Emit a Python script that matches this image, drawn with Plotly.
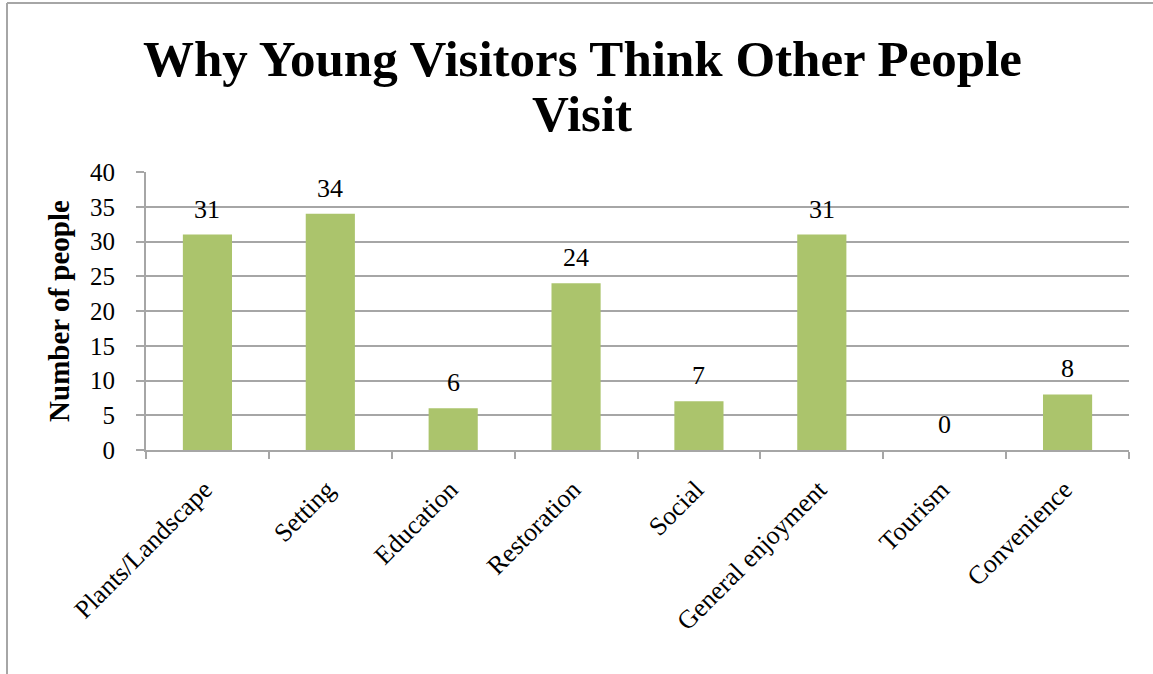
import plotly.graph_objects as go

categories = ["Plants/Landscape", "Setting", "Education", "Restoration", "Social",
              "General enjoyment", "Tourism", "Convenience"]
counts = [31, 34, 6, 24, 7, 31, 0, 8]
y_ticks = [0, 5, 10, 15, 20, 25, 30, 35, 40]
title_lines = ["Why Young Visitors Think Other People", "Visit"]

W, H = 1153, 674
ML, MR, MT, MB = 146, 24, 172, 224
PW = W - ML - MR
PH = H - MT - MB

FONT = "Liberation Serif"
GRID = "#a6a6a6"

def px_x(p):
    return (p - ML) / PW

def px_y(p):
    return (H - MB - p) / PH

fig = go.Figure()
fig.add_trace(go.Bar(
    x=categories, y=counts,
    marker=dict(color="#abc46c", line=dict(width=0)),
    width=0.4,
    hoverinfo="x+y",
))

for c, v in zip(categories, counts):
    fig.add_annotation(x=c, y=v, text=str(v), showarrow=False,
                       yanchor="bottom", yshift=9,
                       font=dict(family=FONT, size=26, color="black"))

for line, yc in zip(title_lines, [59, 114]):
    fig.add_annotation(xref="paper", yref="paper", x=px_x(582), y=px_y(yc),
                       xanchor="center", yanchor="middle", showarrow=False,
                       text="<b>" + line + "</b>",
                       font=dict(family=FONT, size=51, color="black"))

fig.add_shape(type="line", xref="paper", yref="paper",
              x0=px_x(7), x1=px_x(1160), y0=px_y(3), y1=px_y(3),
              line=dict(color="#a6a6a6", width=2))
fig.add_shape(type="line", xref="paper", yref="paper",
              x0=px_x(7), x1=px_x(7), y0=px_y(3), y1=px_y(680),
              line=dict(color="#a6a6a6", width=2))

fig.update_layout(
    width=W, height=H,
    margin=dict(l=ML, r=MR, t=MT, b=MB),
    paper_bgcolor="white", plot_bgcolor="white",
    showlegend=False,
    xaxis=dict(
        type="category", tickson="boundaries",
        ticks="outside", ticklen=7, tickcolor=GRID, tickwidth=2,
        showline=True, linecolor=GRID, linewidth=2,
        showgrid=False, tickangle=-45,
        ticklabelshift=-3, ticklabelstandoff=12,
        tickfont=dict(family=FONT, size=26, color="black"),
    ),
    yaxis=dict(
        range=[0, 40], tickvals=y_ticks,
        ticks="outside", ticklen=8, tickcolor=GRID, tickwidth=2,
        showline=True, linecolor=GRID, linewidth=2,
        showgrid=True, gridcolor=GRID, gridwidth=2,
        zeroline=False,
        ticklabelstandoff=16,
        tickfont=dict(family=FONT, size=25, color="black"),
        title=dict(text="<b>Number of people</b>", standoff=12,
                   font=dict(family=FONT, size=29, color="black")),
    ),
)

fig.write_html("out.html")
